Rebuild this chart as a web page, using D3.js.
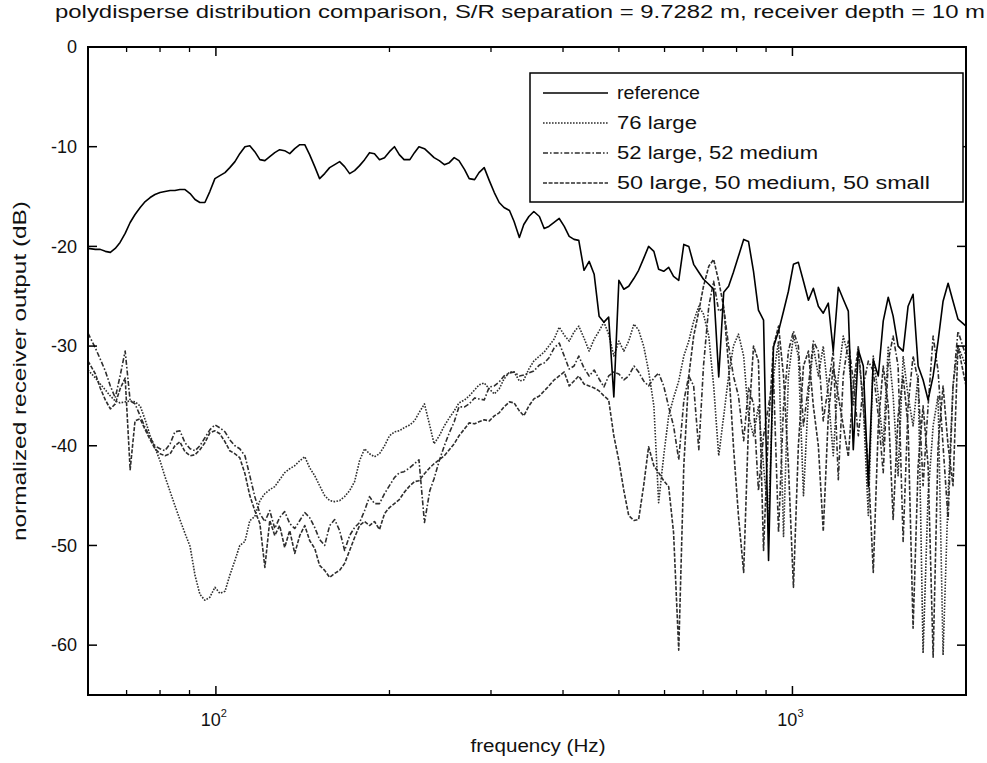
<!DOCTYPE html>
<html><head><meta charset="utf-8">
<script src="https://cdn.jsdelivr.net/npm/d3@7"></script>
<style>
html,body{margin:0;padding:0;background:#fff;}
svg{display:block;font-family:"Liberation Sans",Arial,Helvetica,sans-serif;}
</style></head>
<body>
<svg id="chart" width="987" height="763"></svg>
<script>
// ---- data ----
const freqHz = [
 60, 61.8, 63.0, 64.3, 65.6, 66.9, 68.2, 69.6, 71.0, 72.4,
 73.9, 75.4, 76.9, 78.4, 80.0, 81.6, 83.3, 84.9, 86.6, 88.4,
 90.2, 92.0, 93.8, 95.7, 97.6, 99.6, 101.6, 103.7, 105.7, 107.9,
 110.0, 112.3, 114.5, 116.8, 119.2, 121.6, 124.0, 126.5, 129.0, 131.6,
 134.3, 137.0, 139.8, 142.6, 145.4, 148.4, 151.3, 154.4, 157.5, 160.7,
 163.9, 167.2, 170.6, 174.0, 177.5, 181.1, 184.7, 188.4, 192.2, 196.1,
 200, 204, 208, 212, 217, 221, 225, 230, 235, 239,
 244, 249, 254, 259, 264, 270, 275, 281, 286, 292,
 298, 304, 310, 316, 323, 329, 336, 342, 349, 356,
 364, 371, 378, 386, 394, 402, 410, 418, 426, 435,
 444, 453, 462, 471, 480, 490, 500, 510, 520, 531,
 541, 552, 563, 575, 586, 598, 610, 622, 635, 648,
 661, 674, 688, 701, 716, 730, 745, 760, 775, 790,
 806, 823, 839, 856, 873, 891, 909, 927, 946, 965,
 984, 1004, 1024, 1045, 1066, 1087, 1109, 1131, 1154, 1177,
 1201, 1225, 1250, 1275, 1301, 1327, 1354, 1381, 1409, 1437,
 1466, 1495, 1525, 1556, 1587, 1619, 1652, 1685, 1719, 1754,
 1789, 1825, 1862, 1899, 1937, 2000
];
const referenceDb = [
 -20.2, -20.3, -20.3, -20.5, -20.6, -20.2, -19.6, -18.7, -17.6, -16.8,
 -16.1, -15.5, -15.1, -14.8, -14.6, -14.5, -14.4, -14.4, -14.3, -14.3,
 -14.7, -15.3, -15.6, -15.6, -14.5, -13.2, -12.9, -12.6, -12.1, -11.5,
 -10.7, -10.0, -9.9, -10.5, -11.3, -11.4, -11.0, -10.6, -10.3, -10.4,
 -10.7, -10.2, -9.8, -9.8, -10.8, -12.0, -13.2, -12.7, -12.1, -11.8,
 -11.5, -12.0, -12.7, -12.4, -11.9, -11.3, -10.6, -10.7, -11.3, -11.1,
 -10.5, -10.0, -10.8, -11.3, -11.3, -10.6, -10.0, -10.2, -10.7, -11.1,
 -11.4, -11.8, -11.6, -11.1, -11.4, -12.3, -13.2, -13.3, -12.6, -12.1,
 -13.4, -14.6, -15.6, -16.1, -16.4, -17.5, -19.1, -17.8, -17.0, -16.5,
 -17.0, -18.2, -18.0, -17.6, -17.2, -18.0, -19.0, -19.3, -19.4, -22.4,
 -21.5, -22.8, -27.0, -27.6, -27.1, -35.1, -23.4, -24.3, -24.0, -23.2,
 -22.4, -21.2, -20.0, -20.5, -22.3, -22.5, -22.1, -23.0, -23.4, -19.8,
 -20.0, -21.8, -22.6, -23.3, -23.8, -24.3, -33.1, -24.6, -24.0, -22.6,
 -21.0, -19.3, -19.5, -22.5, -26.4, -27.4, -51.5, -30.1, -28.5, -26.5,
 -24.5, -21.8, -21.6, -23.5, -25.4, -24.2, -26.0, -26.7, -25.7, -30.5,
 -24.1, -25.3, -26.5, -40.4, -30.4, -32.0, -44.1, -31.4, -33.0, -27.5,
 -25.1, -27.0, -30.0, -30.5, -26.0, -24.8, -32.0, -33.4, -35.4, -33.0,
 -29.5, -25.5, -23.7, -25.5, -27.3, -28.0
];
const large76Db = [
 -32.4, -33.2, -33.8, -34.4, -35.0, -35.5, -35.7, -35.6, -35.5, -35.6,
 -36.0, -37.4, -39.0, -40.2, -41.5, -43.1, -44.6, -46.0, -47.4, -48.8,
 -50.1, -53.0, -54.9, -55.5, -55.2, -54.2, -54.8, -54.6, -53.0, -51.5,
 -50.0, -49.6, -47.5, -47.1, -45.5, -44.8, -44.4, -44.1, -43.4, -42.7,
 -42.3, -42.0, -41.5, -41.1, -42.2, -43.0, -44.0, -45.0, -45.5, -45.6,
 -45.5, -45.1, -44.5, -43.6, -41.5, -40.3, -40.8, -41.1, -40.8, -40.0,
 -39.0, -38.6, -38.5, -38.2, -37.9, -37.5, -36.7, -35.8, -38.0, -39.8,
 -39.0, -38.0, -37.2, -36.5, -35.7, -35.4, -35.0, -34.4, -33.9, -33.7,
 -34.3, -34.8, -34.3, -33.3, -32.6, -32.6, -33.5, -33.4, -32.3, -31.5,
 -31.0, -30.6, -30.0, -29.3, -28.1, -28.9, -29.5, -28.6, -28.0, -29.2,
 -30.5, -29.3, -28.5, -27.6, -28.8, -31.0, -29.5, -30.5, -29.5, -27.8,
 -28.4, -30.0, -32.5, -36.0, -45.7, -41.0, -37.0, -35.2, -33.5, -31.0,
 -29.5, -27.5, -26.0, -26.8, -29.0, -34.0, -41.0, -37.0, -33.0, -30.0,
 -28.8, -31.0, -37.0, -39.0, -36.0, -42.0, -47.5, -33.0, -29.5, -49.1,
 -33.0, -29.0, -31.0, -45.0, -35.0, -30.0, -33.0, -30.0, -35.0, -41.0,
 -33.0, -29.0, -31.0, -36.0, -30.5, -36.0, -47.0, -31.0, -35.0, -40.0,
 -30.0, -35.0, -43.0, -31.0, -35.0, -38.0, -33.0, -60.8, -45.0, -38.0,
 -35.0, -61.0, -45.0, -34.0, -30.0, -32.0
];
const large52medium52Db = [
 -28.7, -30.2, -31.3, -32.5, -34.0, -35.2, -33.0, -30.5, -35.5, -35.8,
 -37.0, -38.2, -39.2, -40.0, -40.3, -40.5, -39.8, -38.6, -38.5, -39.7,
 -40.3, -40.5, -40.0, -39.2, -38.4, -37.9, -38.2, -38.6, -39.4, -40.0,
 -40.3, -41.0, -43.0, -45.1, -46.8, -47.6, -46.5, -48.3, -47.2, -46.6,
 -47.8, -48.3, -47.5, -46.7, -47.2, -48.2, -49.4, -50.0, -48.0, -47.4,
 -48.5, -50.5, -49.0, -48.2, -47.7, -46.5, -45.1, -45.8, -45.8, -44.8,
 -44.0, -43.2, -42.7, -42.6, -42.2, -41.8, -41.4, -47.7, -44.5, -43.3,
 -41.5, -40.0, -38.7, -37.6, -36.1, -36.1, -35.8, -35.2, -35.3, -35.4,
 -34.1, -34.0, -33.6, -33.0, -32.7, -32.6, -33.0, -32.9, -32.7, -32.5,
 -31.9, -31.7, -31.2, -30.2, -29.7, -31.0, -32.3, -32.0, -31.0, -32.2,
 -33.0, -32.4, -33.3, -34.1, -33.0, -32.6, -32.8, -33.4, -33.0, -32.0,
 -32.6, -33.5, -34.0, -33.2, -32.7, -34.0, -36.1, -38.0, -41.4, -35.5,
 -33.0, -34.0, -40.4, -32.0, -26.0, -23.5, -26.5, -26.2, -30.0, -33.0,
 -35.0, -39.5, -34.2, -35.8, -44.5, -39.0, -36.0, -33.0, -48.7, -36.0,
 -30.5, -28.5, -30.0, -38.0, -34.0, -29.5, -30.5, -37.5, -34.0, -30.5,
 -43.4, -33.0, -29.5, -33.5, -39.0, -34.0, -31.5, -32.5, -37.0, -42.7,
 -31.5, -29.0, -32.0, -49.6, -36.0, -31.0, -33.5, -44.0, -36.0, -29.0,
 -32.5, -40.0, -47.4, -34.0, -28.5, -31.0
];
const large50medium50small50Db = [
 -31.5, -32.8, -34.2, -35.4, -36.3, -35.8, -34.3, -33.2, -42.4, -37.5,
 -37.3, -38.4, -39.4, -40.3, -40.8, -41.0, -40.8, -40.0, -39.6, -40.6,
 -41.0, -40.9, -40.4, -39.7, -38.7, -38.5, -38.8, -39.6, -40.5, -40.8,
 -41.2, -42.8, -45.0, -46.5, -47.8, -52.2, -47.5, -49.0, -48.0, -50.2,
 -48.5, -50.8, -49.0, -48.0, -49.5, -50.3, -52.0, -52.5, -53.2, -52.8,
 -52.5, -51.8, -50.5, -49.2, -48.0, -47.6, -48.0, -47.6, -48.4, -46.8,
 -46.2, -45.8, -45.4, -44.7, -44.0, -43.6, -43.5, -42.8, -42.2, -41.8,
 -41.4, -41.0, -40.4, -39.8, -39.0, -38.3, -37.7, -37.8, -37.6, -37.4,
 -37.5, -37.0, -36.7, -36.1, -35.6, -35.7, -36.5, -37.0, -36.0, -35.3,
 -35.0, -34.5, -34.0, -33.4, -33.0, -32.6, -34.0, -33.5, -33.0, -33.8,
 -34.0, -34.2, -34.5, -35.0, -35.4, -39.0, -41.5, -44.5, -47.0, -47.5,
 -47.4, -44.0, -40.1, -42.0, -42.7, -43.5, -44.1, -48.7, -60.5, -42.0,
 -33.0, -29.0, -26.5, -24.0, -22.0, -21.3, -23.5, -26.1, -32.0, -40.0,
 -47.0, -52.7, -38.0, -30.0, -31.5, -50.5, -38.0, -30.0, -28.0, -33.0,
 -42.0, -54.2, -40.0, -32.0, -30.5, -36.0, -40.0, -48.6, -37.0, -32.0,
 -35.0, -38.0, -41.1, -34.0, -30.0, -36.0, -42.0, -52.7, -38.0, -32.0,
 -36.0, -47.4, -37.0, -33.0, -38.0, -58.3, -42.0, -36.0, -42.0, -61.2,
 -40.0, -34.0, -40.0, -44.0, -30.0, -34.0
];
const seriesNames = ["reference", "76 large", "52 large, 52 medium", "50 large, 50 medium, 50 small"];
const yTicks = [0, -10, -20, -30, -40, -50, -60];
const xMajorTicks = [100, 1000];
const xMinorTicks = [70, 80, 90, 200, 300, 400, 500, 600, 700, 800, 900, 2000];
const titleText = "polydisperse distribution comparison, S/R separation = 9.7282 m, receiver depth = 10 m";
const xLabel = "frequency (Hz)";
const yLabel = "normalized receiver output (dB)";

// ---- layout ----
const svg = d3.select("#chart");
const L = 88, R = 966, T = 47, B = 695;
const x = d3.scaleLog().domain([60, 2000]).range([L, R]);
const y = d3.scaleLinear().domain([-65, 0]).range([B, T]);

svg.append("defs").append("clipPath").attr("id", "plotclip")
  .append("rect").attr("x", L).attr("y", T).attr("width", R - L).attr("height", B - T);

const styles = [
  {color: "#000", width: 1.6, dash: null},
  {color: "#2e2e2e", width: 1.6, dash: "1.6,1.4"},
  {color: "#2e2e2e", width: 1.6, dash: "5,2,1.6,2"},
  {color: "#2e2e2e", width: 1.6, dash: "4,1.6"}
];
const allSeries = [referenceDb, large76Db, large52medium52Db, large50medium50small50Db];

const line = d3.line().x((d, i) => x(freqHz[i])).y(d => y(d));
const plot = svg.append("g").attr("clip-path", "url(#plotclip)");
// draw grey series first, reference on top
[3, 2, 1, 0].forEach(k => {
  plot.append("path").datum(allSeries[k])
    .attr("d", line)
    .attr("fill", "none")
    .attr("stroke", styles[k].color)
    .attr("stroke-width", styles[k].width)
    .attr("stroke-dasharray", styles[k].dash)
    .attr("stroke-linejoin", "round");
});

// ---- axes box and ticks ----
const ax = svg.append("g").attr("stroke", "#000");
yTicks.forEach(v => {
  ax.append("line").attr("x1", L).attr("x2", L + 9).attr("y1", y(v)).attr("y2", y(v)).attr("stroke-width", 1.5);
  ax.append("line").attr("x1", R).attr("x2", R - 9).attr("y1", y(v)).attr("y2", y(v)).attr("stroke-width", 1.5);
});
xMajorTicks.forEach(v => {
  ax.append("line").attr("x1", x(v)).attr("x2", x(v)).attr("y1", B).attr("y2", B - 9).attr("stroke-width", 1.5);
  ax.append("line").attr("x1", x(v)).attr("x2", x(v)).attr("y1", T).attr("y2", T + 9).attr("stroke-width", 1.5);
});
xMinorTicks.forEach(v => {
  ax.append("line").attr("x1", x(v)).attr("x2", x(v)).attr("y1", B).attr("y2", B - 5).attr("stroke-width", 1.3);
  ax.append("line").attr("x1", x(v)).attr("x2", x(v)).attr("y1", T).attr("y2", T + 5).attr("stroke-width", 1.3);
});
svg.append("rect").attr("x", L).attr("y", T).attr("width", R - L).attr("height", B - T)
  .attr("fill", "none").attr("stroke", "#000").attr("stroke-width", 2);

// tick labels
svg.append("g").selectAll("text").data(yTicks).join("text")
  .attr("x", 77).attr("y", d => y(d)).attr("dy", "0.35em")
  .attr("text-anchor", "end").attr("font-size", 18).attr("fill", "#111")
  .text(d => d === 0 ? "0" : "-" + Math.abs(d));
xMajorTicks.forEach(v => {
  const t = svg.append("text").attr("x", x(v) - 2).attr("y", 726)
    .attr("text-anchor", "middle").attr("font-size", 18).attr("fill", "#111");
  t.append("tspan").text("10");
  t.append("tspan").attr("dy", -9).attr("font-size", 11).text(String(Math.round(Math.log10(v))));
});

// axis labels
svg.append("text").attr("x", 538).attr("y", 752).attr("text-anchor", "middle")
  .attr("font-size", 18).attr("fill", "#111")
  .attr("textLength", 135).attr("lengthAdjust", "spacingAndGlyphs").text(xLabel);
svg.append("text").attr("transform", "translate(26,371) rotate(-90)").attr("text-anchor", "middle")
  .attr("font-size", 18).attr("fill", "#111")
  .attr("textLength", 340).attr("lengthAdjust", "spacingAndGlyphs").text(yLabel);

// title
svg.append("text").attr("x", 520).attr("y", 18).attr("text-anchor", "middle")
  .attr("font-size", 18).attr("fill", "#111")
  .attr("textLength", 930).attr("lengthAdjust", "spacingAndGlyphs").text(titleText);

// ---- legend ----
const lg = svg.append("g");
lg.append("rect").attr("x", 530).attr("y", 73).attr("width", 433).attr("height", 129)
  .attr("fill", "#fff").attr("stroke", "#000").attr("stroke-width", 1.5);
const legendLens = [83, 80, 201, 313];
seriesNames.forEach((name, i) => {
  const yy = 93 + i * 30;
  lg.append("line").attr("x1", 543).attr("x2", 608).attr("y1", yy).attr("y2", yy)
    .attr("stroke", styles[i].color).attr("stroke-width", styles[i].width)
    .attr("stroke-dasharray", styles[i].dash);
  lg.append("text").attr("x", 617).attr("y", yy).attr("dy", "0.35em")
    .attr("font-size", 18).attr("fill", "#111")
    .attr("textLength", legendLens[i]).attr("lengthAdjust", "spacingAndGlyphs").text(name);
});
</script>
</body></html>
